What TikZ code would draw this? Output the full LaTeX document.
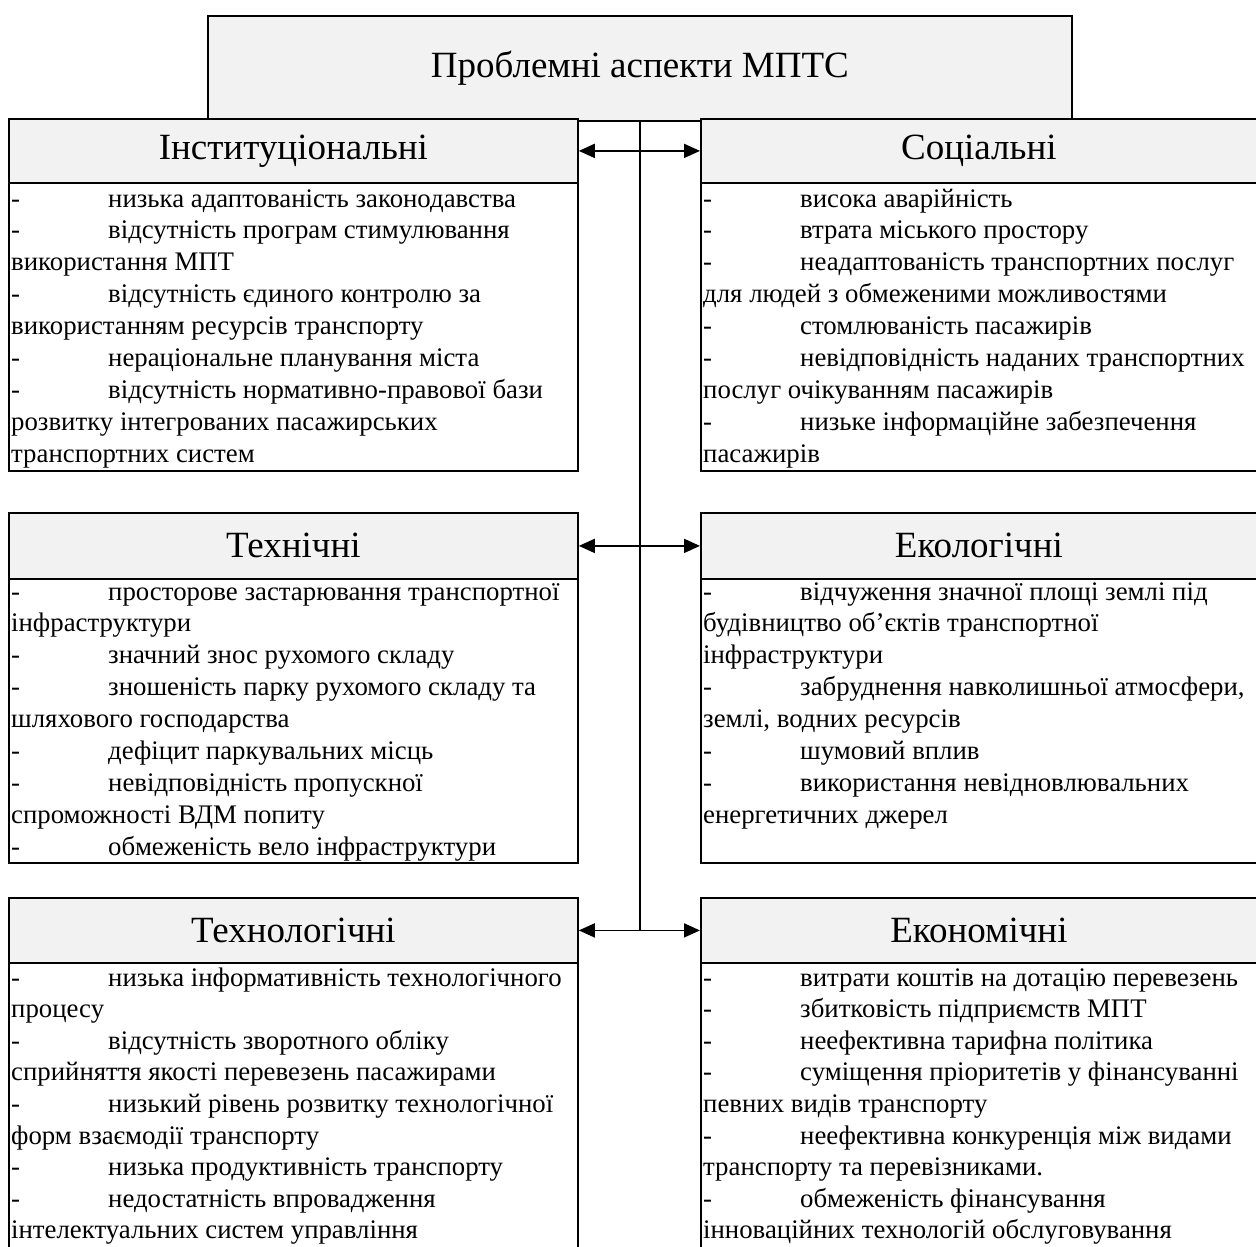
\documentclass[tikz,border=0pt]{standalone}
\usepackage{fontspec}
\setmainfont{Liberation Serif}
\usetikzlibrary{arrows.meta}
\newcommand{\itm}[1]{\makebox[97pt][l]{-}#1}
\begin{document}
\begin{tikzpicture}[x=1pt,y=-1pt,
  frame/.style={draw=black,line width=1.8pt},
  hdr/.style={frame,fill=black!5,inner sep=0pt,anchor=north west,
    font=\fontsize{37}{42}\selectfont},
  bodybox/.style={frame,fill=white,inner sep=0pt,anchor=north west},
  line/.style={inner sep=0pt,anchor=base west,font=\fontsize{26.8}{32}\selectfont},
  arr/.style={line width=1.8pt,-{Triangle[length=16pt,width=14pt]}},
  spineline/.style={line width=1.4pt}]
\clip (0,0) rectangle (1256,1247);
\fill[white] (0,0) rectangle (1256,1247);

% title
\node[hdr,minimum width=864,minimum height=105] (top) at (207,15) {Проблемні аспекти МПТС};

% left column
\node[hdr,minimum width=569,minimum height=64] (instH) at (8,118) {Інституціональні};
\node[bodybox,minimum width=569,minimum height=288] (instB) at (8,182) {};
\node[hdr,minimum width=569,minimum height=66] (techH) at (8,512) {Технічні};
\node[bodybox,minimum width=569,minimum height=284] (techB) at (8,578) {};
\node[hdr,minimum width=569,minimum height=65] (tlgH) at (8,897) {Технологічні};
\node[bodybox,minimum width=569,minimum height=320] (tlgB) at (8,962) {};

% right column
\node[hdr,minimum width=556,minimum height=64] (socH) at (700,118) {Соціальні};
\node[bodybox,minimum width=556,minimum height=288] (socB) at (700,182) {};
\node[hdr,minimum width=556,minimum height=66] (ecoH) at (700,512) {Екологічні};
\node[bodybox,minimum width=556,minimum height=284] (ecoB) at (700,578) {};
\node[hdr,minimum width=556,minimum height=65] (ecnH) at (700,897) {Економічні};
\node[bodybox,minimum width=556,minimum height=320] (ecnB) at (700,962) {};

% spine and branches
\coordinate (spineEnd) at (top.south |- tlgH.east);
\draw[spineline] (top.south) -- (spineEnd);
\foreach \h in {instH,techH,tlgH}
  \draw[arr] (top.south |- \h.east) -- (\h.east);
\foreach \h in {socH,ecoH,ecnH}
  \draw[arr] (top.south |- \h.east) -- (\h.west);

% item lists
\foreach \t [count=\i from 0] in {
  {\itm{низька адаптованість законодавства}},
  {\itm{відсутність програм стимулювання}},
  {використання МПТ},
  {\itm{відсутність єдиного контролю за}},
  {використанням ресурсів транспорту},
  {\itm{нераціональне планування міста}},
  {\itm{відсутність нормативно-правової бази}},
  {розвитку інтегрованих пасажирських},
  {транспортних систем}}
  \node[line] (inst\i) at (11,207+31.9*\i) {\t};

\foreach \t [count=\i from 0] in {
  {\itm{висока аварійність}},
  {\itm{втрата міського простору}},
  {\itm{неадаптованість транспортних послуг}},
  {для людей з обмеженими можливостями},
  {\itm{стомлюваність пасажирів}},
  {\itm{невідповідність наданих транспортних}},
  {послуг очікуванням пасажирів},
  {\itm{низьке інформаційне забезпечення}},
  {пасажирів}}
  \node[line] (soc\i) at (703,207+31.9*\i) {\t};

\foreach \t [count=\i from 0] in {
  {\itm{просторове застарювання транспортної}},
  {інфраструктури},
  {\itm{значний знос рухомого складу}},
  {\itm{зношеність парку рухомого складу та}},
  {шляхового господарства},
  {\itm{дефіцит паркувальних місць}},
  {\itm{невідповідність пропускної}},
  {спроможності ВДМ попиту},
  {\itm{обмеженість вело інфраструктури}}}
  \node[line] (tech\i) at (11,600+31.9*\i) {\t};

\foreach \t [count=\i from 0] in {
  {\itm{відчуження значної площі землі під}},
  {будівництво об’єктів транспортної},
  {інфраструктури},
  {\itm{забруднення навколишньої атмосфери,}},
  {землі, водних ресурсів},
  {\itm{шумовий вплив}},
  {\itm{використання невідновлювальних}},
  {енергетичних джерел}}
  \node[line] (eco\i) at (703,600+31.9*\i) {\t};

\foreach \t [count=\i from 0] in {
  {\itm{низька інформативність технологічного}},
  {процесу},
  {\itm{відсутність зворотного обліку}},
  {сприйняття якості перевезень пасажирами},
  {\itm{низький рівень розвитку технологічної}},
  {форм взаємодії транспорту},
  {\itm{низька продуктивність транспорту}},
  {\itm{недостатність впровадження}},
  {інтелектуальних систем управління}}
  \node[line] (tlg\i) at (11,986+31.6*\i) {\t};

\foreach \t [count=\i from 0] in {
  {\itm{витрати коштів на дотацію перевезень}},
  {\itm{збитковість підприємств МПТ}},
  {\itm{неефективна тарифна політика}},
  {\itm{суміщення пріоритетів у фінансуванні}},
  {певних видів транспорту},
  {\itm{неефективна конкуренція між видами}},
  {транспорту та перевізниками.},
  {\itm{обмеженість фінансування}},
  {інноваційних технологій обслуговування}}
  \node[line] (ecn\i) at (703,986+31.6*\i) {\t};
\end{tikzpicture}
\end{document}
